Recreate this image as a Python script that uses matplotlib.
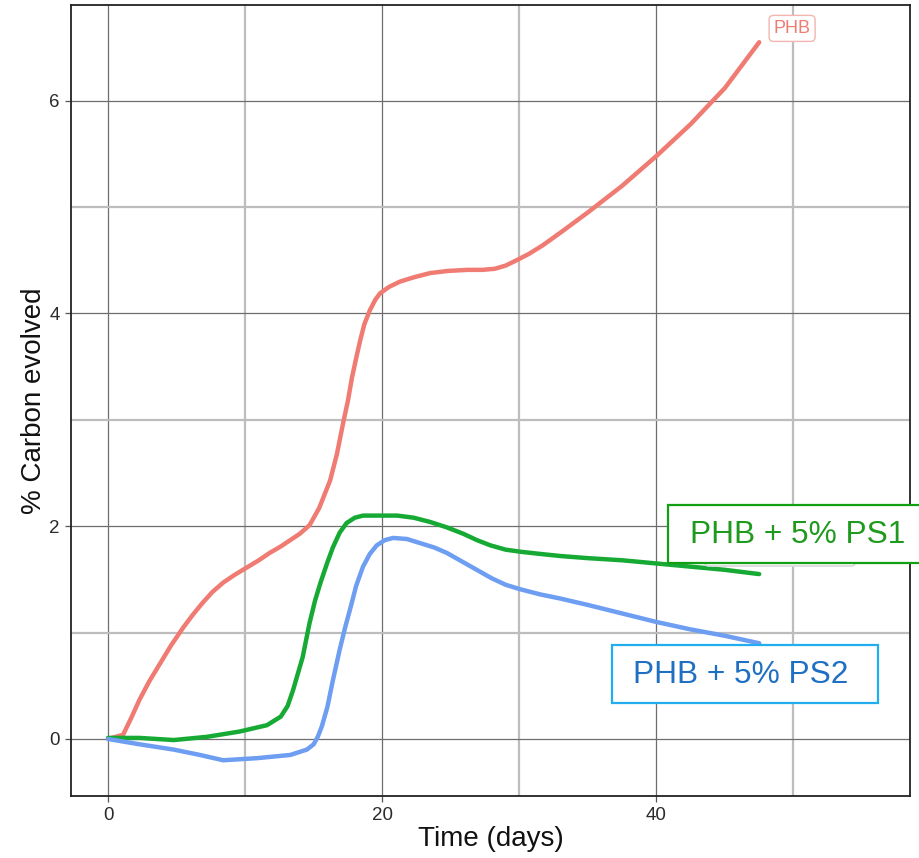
import matplotlib
matplotlib.use("Agg")
import matplotlib.pyplot as plt
from matplotlib.ticker import MultipleLocator
from matplotlib.patches import Rectangle, FancyBboxPatch

plt.rcParams['font.family'] = ['Liberation Sans', 'DejaVu Sans']

# Data
phb_x = [0, 1.1, 1.7, 2.3, 3.0, 3.8, 4.6, 5.5, 6.2, 6.9, 7.6, 8.4, 9.2, 10.1, 11.0, 11.8, 12.6, 13.3, 14.0, 14.7, 15.4, 16.2, 16.7, 17.15, 17.5, 17.8, 18.1, 18.4, 18.7, 19.1, 19.5, 19.85, 20.5, 21.3, 22.3, 23.5, 24.8, 26.2, 27.3, 28.2, 29.0, 29.8, 30.7, 31.7, 33.0, 35.0, 37.5, 40.0, 42.5, 45.0, 47.5]
phb_y = [0, 0.04, 0.2, 0.37, 0.54, 0.71, 0.88, 1.05, 1.17, 1.28, 1.38, 1.47, 1.54, 1.61, 1.68, 1.75, 1.81, 1.87, 1.93, 2.01, 2.17, 2.43, 2.68, 2.97, 3.18, 3.4, 3.58, 3.75, 3.9, 4.03, 4.13, 4.19, 4.25, 4.30, 4.34, 4.38, 4.40, 4.41, 4.41, 4.42, 4.45, 4.5, 4.56, 4.64, 4.76, 4.95, 5.2, 5.48, 5.78, 6.12, 6.55]

ps1_x = [0, 2.3, 4.8, 7.2, 9.6, 11.6, 12.6, 13.1, 13.5, 14.2, 14.7, 15.1, 15.5, 16.0, 16.4, 16.9, 17.4, 18.0, 18.6, 19.8, 21.1, 22.3, 23.5, 24.7, 25.9, 26.9, 27.9, 29.0, 30.1, 31.5, 33.0, 35.0, 37.5, 40.0, 42.5, 45.0, 47.5]
ps1_y = [0.01, 0.01, -0.01, 0.02, 0.07, 0.13, 0.21, 0.31, 0.46, 0.77, 1.09, 1.3, 1.47, 1.66, 1.8, 1.94, 2.03, 2.08, 2.1, 2.1, 2.1, 2.08, 2.04, 1.99, 1.93, 1.87, 1.82, 1.78, 1.76, 1.74, 1.72, 1.70, 1.68, 1.65, 1.62, 1.59, 1.55]

ps2_x = [0, 2.3, 4.8, 6.7, 8.4, 10.9, 13.3, 14.5, 15.0, 15.3, 15.6, 16.0, 16.4, 16.9, 17.3, 17.7, 18.1, 18.6, 19.1, 19.6, 20.2, 20.8, 21.8, 22.8, 23.8, 24.7, 25.8, 26.9, 28.0, 29.0, 30.0, 31.5, 33.0, 35.0, 37.5, 40.0, 42.5, 45.0, 47.5]
ps2_y = [0, -0.05, -0.1, -0.15, -0.2, -0.18, -0.15, -0.1, -0.05, 0.02, 0.12, 0.3, 0.55, 0.84, 1.05, 1.24, 1.44, 1.62, 1.74, 1.82, 1.87, 1.89, 1.88, 1.84, 1.8, 1.75, 1.67, 1.59, 1.51, 1.45, 1.41, 1.36, 1.32, 1.26, 1.18, 1.1, 1.03, 0.97, 0.9]

x_ticks = [0, 20, 40]
y_ticks = [0, 2, 4, 6]

fig = plt.figure(figsize=(9.2, 8.58), dpi=100)
ax = fig.add_axes([71/920, 62/858, (910-71)/920, (796-5)/858])

ax.set_xlim(-2.7, 58.5)
ax.set_ylim(-0.536, 6.9)

# grid
ax.xaxis.set_minor_locator(MultipleLocator(10))
ax.yaxis.set_minor_locator(MultipleLocator(1))
ax.set_xticks(x_ticks)
ax.set_yticks(y_ticks)
ax.grid(which='minor', color='#BDBDBD', linewidth=1.6, zorder=0)
ax.grid(which='major', color='#6E6E6E', linewidth=0.9, zorder=0)
ax.tick_params(which='minor', length=0)
ax.tick_params(which='major', length=4, width=0.9, color='#555555',
               labelsize=13.5, labelcolor='#2A2A2A', pad=4)
for s in ax.spines.values():
    s.set_linewidth(1.3)
    s.set_color('#222222')

ax.plot(phb_x, phb_y, color='#EF7B73', linewidth=3.2, solid_capstyle='round', solid_joinstyle='round', zorder=3)
ax.plot(ps1_x, ps1_y, color='#16AA35', linewidth=3.2, solid_capstyle='round', solid_joinstyle='round', zorder=3)
ax.plot(ps2_x, ps2_y, color='#6E9EF2', linewidth=3.2, solid_capstyle='round', solid_joinstyle='round', zorder=3)

ax.set_xlabel('Time (days)', fontsize=20, color='#111111', labelpad=1)
ax.set_ylabel('% Carbon evolved', fontsize=20, color='#111111', labelpad=2)

# PHB label
ax.text(49.9, 6.68, 'PHB', fontsize=13, color='#EF7B73', ha='center', va='center',
        bbox=dict(boxstyle='round,pad=0.25', fc='white', ec='#F2B5B0', lw=1.0), zorder=5)

W, H = 920, 858
def frect(x0, y0, x1, y1, **kw):
    return Rectangle((x0 / W, 1 - y1 / H), (x1 - x0) / W, (y1 - y0) / H,
                     transform=fig.transFigure, **kw)

# faint label shadow behind PS1 box
fig.patches.append(FancyBboxPatch((705 / W, 1 - 566 / H), (855 - 705) / W, (566 - 512) / H,
                                  boxstyle='round,pad=0,rounding_size=0.004',
                                  transform=fig.transFigure, fc='white', ec='#D9D9D9',
                                  lw=1.2, zorder=5))
fig.patches.append(frect(668, 505, 930, 563, fc='white', ec='#12A012', lw=1.6, zorder=6))
fig.text(690 / W, 1 - 535 / H, 'PHB + 5% PS1', fontsize=22.8, color='#1F9A1F',
         ha='left', va='center', zorder=7)

fig.patches.append(frect(612, 645, 878, 703, fc='white', ec='#22AEEE', lw=1.6, zorder=6))
fig.text(741 / W, 1 - 675 / H, 'PHB + 5% PS2', fontsize=22.8, color='#1F6FC2',
         ha='center', va='center', zorder=7)

fig.savefig('out.png', dpi=100)
